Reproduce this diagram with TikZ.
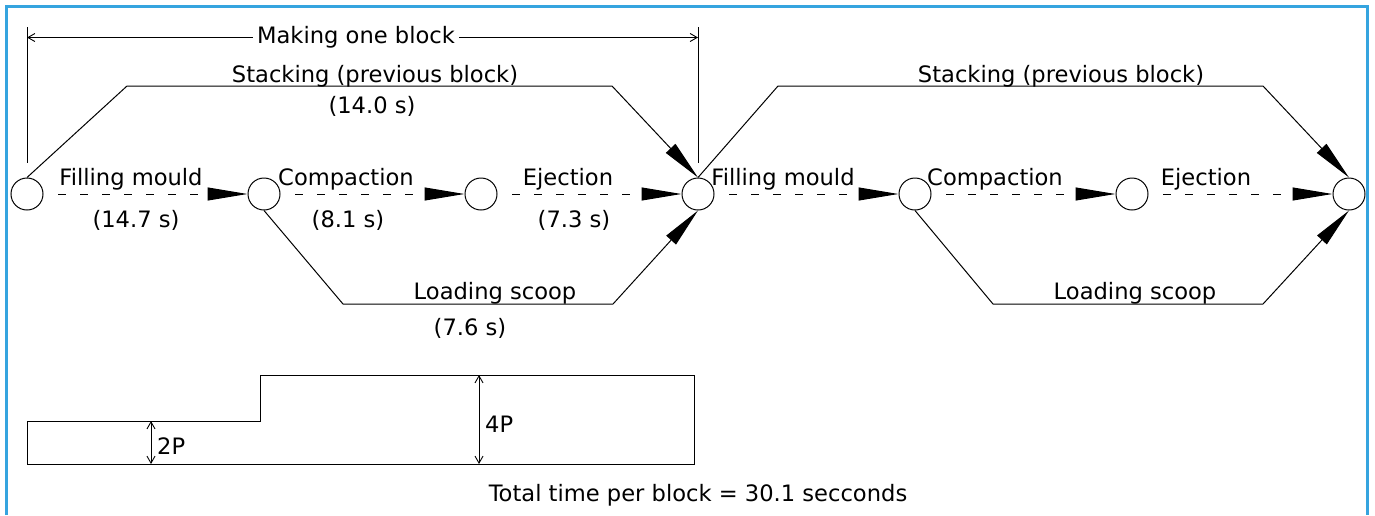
\documentclass[tikz,border=0pt]{standalone}
\usepackage{fontspec}
\setmainfont{DejaVu Sans}
\usepackage{xcolor}
\definecolor{blkframe}{HTML}{35A4DF}
\usepackage{tikz}
\usetikzlibrary{arrows.meta,positioning}
\tikzset{
  blkevent/.style={draw,circle,minimum size=32pt,inner sep=0pt,line width=1pt,fill=white},
  blkflow/.style={-{Triangle[length=40pt,width=13pt]},line width=1pt,dash pattern=on 7.5pt off 14.5pt,dash phase=7.5pt},
  blkpath/.style={-{Triangle[length=40pt,width=13pt]},line width=1pt},
  blkline/.style={line width=1pt},
  blkdim/.style={{Straight Barb[length=7pt,width=8pt]}-{Straight Barb[length=7pt,width=8pt]},line width=0.9pt},
  blklabel/.style={font=\fontsize{22.6}{27}\selectfont,inner sep=0pt,anchor=base},
}

\begin{document}
\begin{tikzpicture}[x=1pt,y=-1pt,node distance=184pt]
\useasboundingbox (0,0) rectangle (1375,515);
\draw[blkframe,line width=3pt] (6,515) -- (6,6) -- (1367,6) -- (1367,515);
% events
\node[blkevent] (e1) at (27,194) {};
\node[blkevent,right=204pt of e1] (e2) {};
\node[blkevent,right=of e2] (e3) {};
\node[blkevent,right=of e3] (e4) {};
\node[blkevent,right=of e4] (e5) {};
\node[blkevent,right=of e5] (e6) {};
\node[blkevent,right=of e6] (e7) {};
% corners of the parallel paths
\coordinate (s1a) at (127,86);\coordinate (s1b) at (612,86);
\coordinate (s2a) at (778,86);\coordinate (s2b) at (1263,86);
\coordinate (l1a) at (343,304);\coordinate (l1b) at (613,304);
\coordinate (l2a) at (993,304);\coordinate (l2b) at (1263,304);
% activities
\draw[blkflow](e1.east)--(e2.west);\draw[blkflow](e2.east)--(e3.west);\draw[blkflow](e3.east)--(e4.west);
\draw[blkflow](e4.east)--(e5.west);\draw[blkflow](e5.east)--(e6.west);\draw[blkflow](e6.east)--(e7.west);
\draw[blkpath](e1.north)--(s1a)--(s1b)--(e4.north);
\draw[blkpath](e4.north)--(s2a)--(s2b)--(e7.north);
\draw[blkpath](e2.south)--(l1a)--(l1b)--(e4.south);
\draw[blkpath](e5.south)--(l2a)--(l2b)--(e7.south);
\node[blklabel] (t1) at (131,185) {Filling mould};
\node[blklabel] (t2) at (346,185) {Compaction};
\node[blklabel] (t3) at (568,185) {Ejection};
\node[blklabel] (t4) at (783,185) {Filling mould};
\node[blklabel] (t5) at (995,185) {Compaction};
\node[blklabel] (t6) at (1206,185) {Ejection};
\node[blklabel] (d1) at (136,227) {(14.7 s)};
\node[blklabel] (d2) at (348,227) {(8.1 s)};
\node[blklabel] (d3) at (574,227) {(7.3 s)};
\node[blklabel] (st1) at (375,82) {Stacking (previous block)};
\node[blklabel] (st1d) at (372,113) {(14.0 s)};
\node[blklabel] (st2) at (1061,82) {Stacking (previous block)};
\node[blklabel] (lo1) at (495,299) {Loading scoop};
\node[blklabel] (lo1d) at (470,335) {(7.6 s)};
\node[blklabel] (lo2) at (1135,299) {Loading scoop};
% making one block
\draw[blkline]([yshift=15pt]e1.north)--++(0,-136);
\draw[blkline]([yshift=15pt]e4.north)--++(0,-136);
\draw[blkdim]([yshift=140pt]e1.north)--([yshift=140pt]e4.north);
\node[blklabel,fill=white,inner xsep=4pt] (mk) at (356,43) {Making one block};
% press force
\draw[blkline](27,464)--(27,421)--(260,421)--(260,375)--(694,375)--(694,464)--cycle;
\draw[blkdim](151,421)--(151,464);
\draw[blkdim](479,375)--(479,464);
\node[blklabel,anchor=base west] (p2) at (157,454) {2P};
\node[blklabel,anchor=base west] (p4) at (485,432) {4P};
\node[blklabel] (tot) at (698,501) {Total time per block = 30.1 secconds};
\end{tikzpicture}
\end{document}
